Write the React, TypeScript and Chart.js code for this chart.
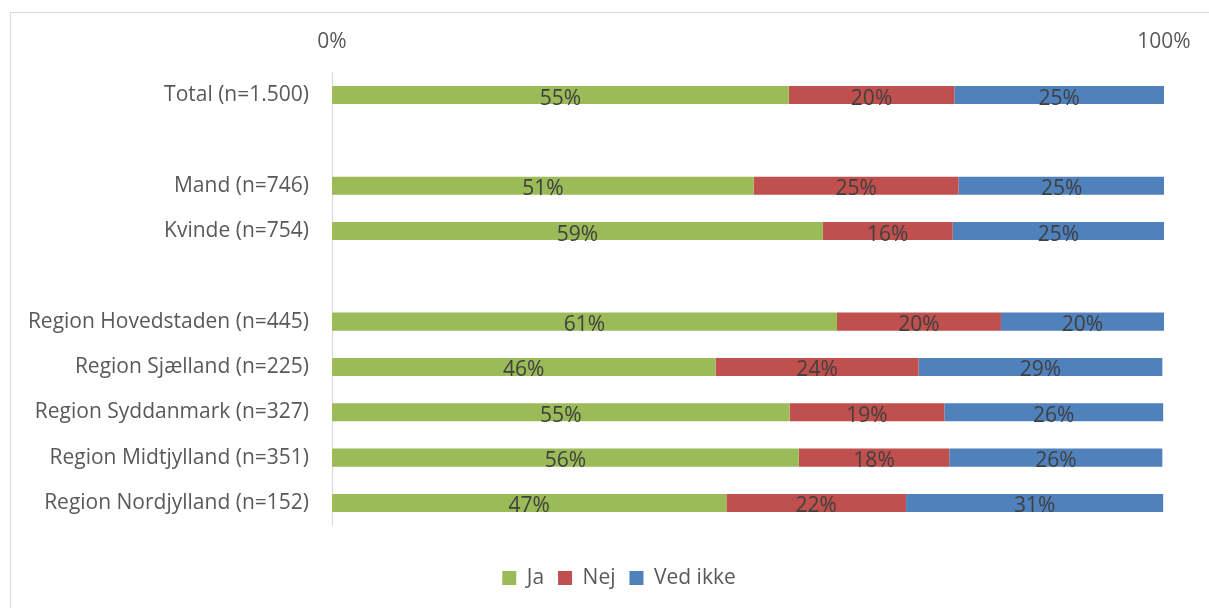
import { useEffect, useRef } from 'react';
import { Chart, registerables } from 'chart.js';

Chart.register(...registerables);

const categories = [
  'Total (n=1.500)',
  '',
  'Mand (n=746)',
  'Kvinde (n=754)',
  ' ',
  'Region Hovedstaden (n=445)',
  'Region Sjælland (n=225)',
  'Region Syddanmark (n=327)',
  'Region Midtjylland (n=351)',
  'Region Nordjylland (n=152)',
];

const jaValues = [54.9, null, 50.7, 59.0, null, 60.7, 46.1, 55.0, 56.1, 47.4];
const nejValues = [19.9, null, 24.6, 15.6, null, 19.7, 24.4, 18.6, 18.1, 21.6];
const vedIkkeValues = [25.2, null, 24.8, 25.4, null, 19.6, 29.3, 26.3, 25.6, 30.9];

const seriesNames = ['Ja', 'Nej', 'Ved ikke'];
const seriesColors = ['#9BBB59', '#C0504D', '#4F81BD'];
const xTicks = [0, 100];

const FONT = "'Open Sans', sans-serif";

const segLabels = {
  id: 'segLabels',
  afterDatasetsDraw(chart: any) {
    const ctx = chart.ctx;
    ctx.save();
    ctx.font = `21px ${FONT}`;
    ctx.fillStyle = '#404040';
    ctx.textAlign = 'center';
    ctx.textBaseline = 'middle';
    chart.data.datasets.forEach((ds: any, i: number) => {
      const meta = chart.getDatasetMeta(i);
      meta.data.forEach((bar: any, j: number) => {
        const v = ds.data[j];
        if (v == null) return;
        const p = bar.getProps(['x', 'y', 'base'], true);
        ctx.fillText(Math.round(v) + '%', (p.x + p.base) / 2, p.y + 3.5);
      });
    });
    ctx.restore();
  },
};

export default function App() {
  const ref = useRef<HTMLCanvasElement>(null);

  useEffect(() => {
    if (!ref.current) return;
    const values = [jaValues, nejValues, vedIkkeValues];
    const chart = new Chart(ref.current, {
      type: 'bar',
      data: {
        labels: categories,
        datasets: seriesNames.map((name, i) => ({
          label: name,
          data: values[i],
          backgroundColor: seriesColors[i],
          borderWidth: 0,
          xAxisID: 'x',
          yAxisID: 'y',
          barPercentage: 0.4,
          categoryPercentage: 1,
        })),
      },
      options: {
        indexAxis: 'y',
        responsive: false,
        animation: false,
        layout: { padding: { top: 0, right: 0, left: 0, bottom: 34.5 } },
        plugins: {
          legend: {
            position: 'bottom',
            labels: {
              boxWidth: 14,
              boxHeight: 14,
              padding: 14,
              color: '#595959',
              font: { family: FONT, size: 21 },
            },
          },
          tooltip: { enabled: false },
          title: { display: false },
        },
        scales: {
          x: {
            type: 'linear',
            position: 'top',
            stacked: true,
            min: 0,
            max: 100,
            afterBuildTicks(scale: any) {
              scale.ticks = xTicks.map((v) => ({ value: v }));
            },
            ticks: {
              color: '#595959',
              font: { family: FONT, size: 21 },
              padding: 10,
              callback: (v: any) => v + '%',
            },
            grid: { display: false },
            border: { display: false },
            afterFit(scale: any) {
              scale.height = 59.4;
            },
          },
          xPad: {
            type: 'linear',
            position: 'bottom',
            display: true,
            ticks: { display: false },
            grid: { display: false },
            border: { display: false },
            afterFit(scale: any) {
              scale.height = 27.9;
            },
          },
          y: {
            type: 'category',
            stacked: true,
            grid: { display: false },
            border: { display: true, color: '#d9d9d9', width: 1 },
            ticks: {
              color: '#595959',
              font: { family: FONT, size: 21 },
              padding: 15,
            },
            afterFit(scale: any) {
              scale.width = 321;
            },
          },
          yPad: {
            type: 'linear',
            position: 'right',
            display: true,
            ticks: { display: false },
            grid: { display: false },
            border: { display: false },
            afterFit(scale: any) {
              scale.width = 63;
            },
          },
        },
      } as any,
      plugins: [segLabels],
    });
    return () => chart.destroy();
  }, []);

  return (
    <div
      style={{
        position: 'fixed',
        left: 0,
        top: 0,
        width: 1209,
        height: 608,
        overflow: 'hidden',
        background: '#ffffff',
      }}
    >
      <div
        style={{
          position: 'absolute',
          left: 10,
          top: 12,
          width: 1216,
          height: 650,
          border: '1px solid #d9d9d9',
        }}
      >
        <canvas ref={ref} width={1216} height={620} style={{ display: 'block' }} />
      </div>
    </div>
  );
}
